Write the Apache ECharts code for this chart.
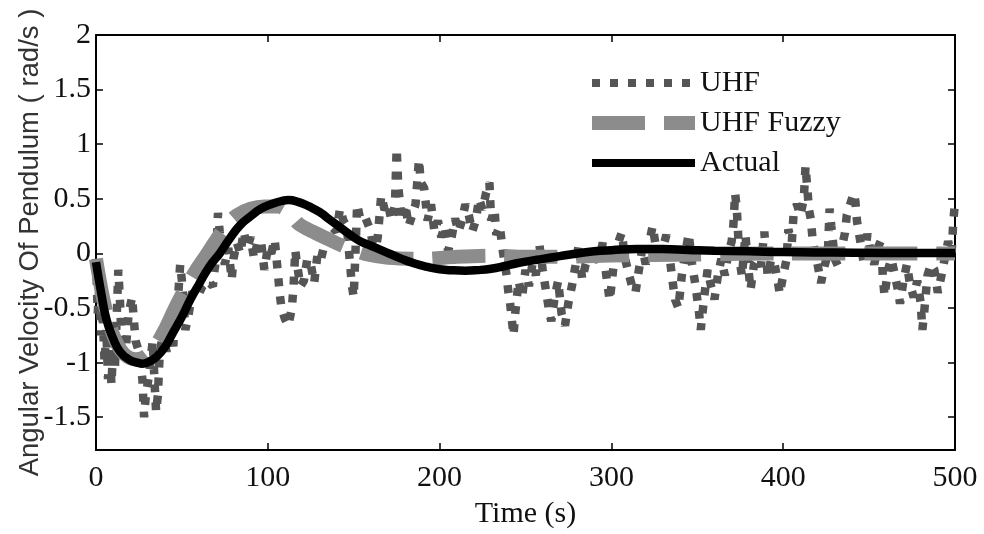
<!DOCTYPE html>
<html>
<head>
<meta charset="utf-8">
<title>Angular velocity of pendulum</title>
<script src="https://cdn.jsdelivr.net/npm/echarts@6/dist/echarts.min.js"></script>
<style>
  html, body { margin: 0; padding: 0; background: #fff; }
  #chart { width: 984px; height: 534px; }
</style>
</head>
<body>
<div id="chart"></div>
<script>
// tick values
const xTicks = [0, 100, 200, 300, 400, 500]
const yTicks = [-1.5, -1, -0.5, 0, 0.5, 1, 1.5, 2]

// Actual (black)
const actualT = [0, 3, 6, 10, 14, 19, 24, 27, 31, 35, 40, 45, 50, 55, 60, 66, 72, 78, 84, 90, 96, 102, 108, 112,
  118, 124, 130, 136, 142, 148, 154, 160, 166, 172, 178, 185, 192, 200, 208, 215, 222, 230, 238, 245, 252,
  260, 270, 280, 290, 300, 315, 330, 345, 360, 380, 400, 430, 460, 500]
const actualV = [-0.08, -0.36, -0.6, -0.78, -0.9, -0.97, -1.0, -1.01, -0.99, -0.95, -0.86, -0.72, -0.58, -0.42, -0.28, -0.12, 0.0, 0.14, 0.26, 0.34, 0.41, 0.45, 0.48, 0.49,
  0.47, 0.43, 0.38, 0.31, 0.24, 0.17, 0.11, 0.07, 0.03, -0.01, -0.05, -0.09, -0.12, -0.145, -0.155, -0.158, -0.153, -0.14, -0.115, -0.09, -0.07,
  -0.05, -0.025, 0.0, 0.02, 0.03, 0.04, 0.04, 0.032, 0.025, 0.02, 0.012, 0.008, 0.005, 0.005]

// UHF Fuzzy (light grey dashes)
const fuzzyT = [0, 4, 8, 12, 17, 23, 28, 34, 40, 46, 52, 58, 64, 69, 76, 82, 90, 98, 106, 112, 118, 126, 134, 142, 150, 158,
  170, 190, 210, 230, 250, 270, 300, 350, 400, 450, 500]
const fuzzyV = [-0.05, -0.4, -0.65, -0.82, -0.93, -0.97, -0.95, -0.86, -0.7, -0.5, -0.32, -0.16, -0.02, 0.1, 0.26, 0.35, 0.41, 0.43, 0.43, 0.38, 0.27, 0.2, 0.14, 0.08, 0.03, -0.01,
  -0.04, -0.05, -0.03, -0.02, -0.03, -0.03, -0.02, -0.01, 0.0, 0.0, 0.0]

// UHF (dark grey dots)
const uhfT = [0, 1, 2, 3, 4, 5, 6, 7, 8, 9, 10, 11, 12, 13, 14, 15,
  17, 19, 21, 22, 23, 25,
  27, 28, 29, 31, 33, 34, 35, 36, 37,
  39, 41, 43, 45,
  46, 47, 49, 50, 51, 52, 54, 56,
  59, 62, 65, 68, 69,
  70, 71, 72, 73,
  75, 77, 79, 80, 82, 84, 86, 88, 90, 92, 94, 96, 98, 100, 102, 104, 106,
  107, 108, 110, 112, 114, 115, 116, 117, 119, 121, 123,
  125, 127, 129, 131, 134, 137, 140, 142, 144, 146, 148, 149, 150, 151, 152, 154,
  157, 160, 162, 164, 166, 168, 170, 172,
  174, 175, 176, 178, 180, 182,
  184, 186, 188, 189, 191, 193, 195, 197, 199, 201, 203, 205, 207,
  209, 211, 213, 215, 217, 219, 221, 223, 225, 227, 229, 230, 232, 233, 235,
  237, 239, 240, 241, 242, 243, 244, 246, 248, 250,
  252, 254, 256, 258, 260, 262,
  264, 265, 267, 269, 271, 273, 275, 277, 279, 281, 283,
  285, 287, 289, 291, 293, 295, 297, 299, 300, 302, 304, 306,
  308, 310, 312, 314, 316, 318, 320, 322, 324, 326, 328, 330, 332, 334, 336,
  337, 339, 341, 343, 345, 347, 349, 351, 352, 354,
  356, 358, 360, 362, 364, 366, 368, 370, 371, 372, 373, 374, 375, 376,
  378, 380, 381, 383, 385, 387, 389, 391, 393, 395, 397, 398, 400, 402,
  403, 405, 406, 408, 410, 412, 413, 414, 415, 416, 417, 418,
  420, 422, 424, 426, 427, 428, 430, 432, 434,
  436, 437, 439, 441, 442, 443, 445, 447,
  449, 451, 453, 455, 457, 458, 459, 461, 463,
  465, 467, 468, 470, 472, 474, 476, 478, 480, 481, 482, 484, 486,
  488, 490, 492, 494, 496, 498, 499, 500]
const uhfV = [-0.05, -0.55, -0.3, -0.75, -0.6, -1.0, -0.7, -1.15, -0.9, -1.2, -0.85, -1.05, -0.6, -0.15, -0.45, -0.85,
  -0.95, -0.55, -0.4, -0.6, -0.8, -0.9,
  -1.15, -1.5, -1.3, -1.1, -0.8, -1.15, -1.45, -1.3, -0.95,
  -0.7, -0.9, -0.65, -0.85,
  -0.45, -0.6, -0.1, -0.25, -0.45, -0.7, -0.55, -0.35,
  -0.4, -0.3, -0.25, -0.3, -0.15,
  -0.05, 0.37, 0.2, 0.05,
  -0.1, 0.05, -0.24, -0.05, 0.1, 0.0, 0.2, 0.05, 0.15, -0.05, 0.1, 0.12, -0.15, 0.05, 0.0, 0.13, -0.2,
  -0.38, -0.5, -0.6, -0.66, -0.5, -0.3, 0.03, -0.1, -0.3, -0.25, -0.05,
  -0.1, -0.27, 0.0, -0.05, 0.15, 0.25, 0.2, 0.41, 0.3, 0.25, -0.12, -0.3, -0.4, 0.0, 0.45, 0.3,
  0.32, 0.2, -0.03, 0.15, 0.53, 0.4, 0.45, 0.3,
  0.44, 0.96, 0.6, 0.3, 0.45, 0.25,
  0.35, 0.45, 0.86, 0.65, 0.6, 0.3, 0.45, 0.2, 0.3, 0.15, 0.25, 0.02, 0.15,
  0.32, 0.2, 0.3, 0.45, 0.35, 0.2, 0.3, 0.5, 0.4, 0.55, 0.65, 0.3, 0.4, 0.17, 0.25,
  0.0, -0.2, -0.35, -0.45, -0.6, -0.75, -0.55, -0.25, -0.4, -0.15,
  -0.3, -0.1, -0.2, 0.09, -0.15, -0.35,
  -0.55, -0.62, -0.4, -0.25, -0.55, -0.66, -0.45, -0.3, -0.12, 0.08, -0.24,
  -0.1, 0.0, -0.12, 0.05, -0.05, 0.1, -0.2, -0.43, -0.3, 0.0, 0.1, 0.19,
  -0.05, -0.18, -0.3, -0.36, -0.15, 0.05, -0.1, 0.1, 0.25, 0.05, -0.1, 0.05, 0.17, -0.05, -0.3,
  -0.42, -0.5, -0.2, 0.0, 0.18, -0.1, -0.3, -0.54, -0.7, -0.4,
  -0.15, -0.3, -0.42, -0.2, -0.05, -0.2, 0.0, 0.11, 0.26, 0.55, 0.41, 0.1, -0.1, -0.21,
  0.17, -0.18, -0.33, -0.1, -0.05, -0.12, 0.2, -0.21, -0.05, -0.1, -0.27, -0.37, -0.2, -0.05,
  0.22, 0.1, 0.35, 0.45, 0.35, 0.5, 0.8, 0.6, 0.4, 0.32, 0.15, 0.05,
  -0.1, -0.27, -0.12, 0.0, 0.41, 0.25, -0.05, -0.12, 0.05,
  0.19, 0.35, 0.45, 0.55, 0.48, 0.29, 0.1, -0.1,
  0.18, 0.0, -0.1, 0.05, 0.12, -0.22, -0.39, -0.15, -0.05,
  -0.2, -0.35, -0.46, -0.25, -0.1, -0.3, -0.4, -0.25, -0.45, -0.7, -0.55, -0.2, -0.1,
  -0.15, -0.36, -0.21, -0.05, 0.11, 0.0, 0.29, 0.47]

const pairs = (ts, vs) => ts.map((t, i) => [t, vs[i]])

const serif = 'Liberation Serif'
const uhfColor = '#555555'
const fuzzyColor = '#8c8c8c'

const chart = echarts.init(document.getElementById('chart'), null, { renderer: 'canvas' })

// box axes: line + inward ticks, never glued to zero
const frameAxis = {
  axisLine: { show: true, onZero: false, lineStyle: { color: '#000', width: 2 } },
  axisTick: { show: true, inside: true, length: 7, lineStyle: { color: '#000', width: 1.5 } },
  splitLine: { show: false }
}
const yTick = { show: true, inside: true, length: 7, lineStyle: { color: '#000', width: 1.5 }, customValues: yTicks }
const noSymbol = { opacity: 0 }

const option = {
  animation: false,
  backgroundColor: '#fff',
  grid: { left: 96, right: 29, top: 35, bottom: 72, containLabel: false },
  legend: {
    orient: 'vertical',
    left: 580,
    top: 63,
    itemWidth: 103,
    itemHeight: 14,
    itemGap: 10,
    textStyle: { fontFamily: serif, fontSize: 30, lineHeight: 30, color: '#111' },
    data: [
      { name: 'UHF', itemStyle: noSymbol, lineStyle: { width: 8, type: [8, 10], color: uhfColor, cap: 'butt' } },
      { name: 'UHF Fuzzy', itemStyle: noSymbol, lineStyle: { width: 14, type: [53, 19], color: fuzzyColor, cap: 'butt' } },
      { name: 'Actual', itemStyle: noSymbol, lineStyle: { width: 8, color: '#000' } }
    ]
  },
  xAxis: [
    Object.assign({}, frameAxis, {
      type: 'value',
      position: 'bottom',
      min: 0,
      max: 500,
      interval: 100,
      name: 'Time (s)',
      nameLocation: 'middle',
      nameGap: 49,
      nameMoveOverlap: false,
      nameTextStyle: { fontFamily: serif, fontSize: 30, color: '#111' },
      axisLabel: { fontFamily: serif, fontSize: 30, color: '#111', margin: 13, customValues: xTicks }
    }),
    Object.assign({}, frameAxis, {
      type: 'value',
      position: 'top',
      min: 0,
      max: 500,
      interval: 100,
      axisLabel: { show: false }
    })
  ],
  yAxis: [
    Object.assign({}, frameAxis, {
      type: 'value',
      position: 'left',
      min: -1.8,
      max: 2,
      name: 'Angular Velocity Of Pendulum ( rad/s )',
      nameLocation: 'middle',
      nameRotate: 90,
      nameGap: 52,
      nameMoveOverlap: false,
      nameTextStyle: { fontFamily: 'Liberation Sans', fontSize: 27.5, color: '#333' },
      axisTick: yTick,
      axisLabel: { fontFamily: serif, fontSize: 30, color: '#111', margin: 5, customValues: yTicks }
    }),
    Object.assign({}, frameAxis, {
      type: 'value',
      position: 'right',
      min: -1.8,
      max: 2,
      axisTick: yTick,
      axisLabel: { show: false }
    })
  ],
  series: [
    {
      name: 'UHF',
      type: 'line',
      data: pairs(uhfT, uhfV),
      showSymbol: false,
      symbol: 'none',
      lineStyle: { color: uhfColor, width: 8.5, type: [8, 10], cap: 'butt', join: 'bevel' },
      itemStyle: { color: uhfColor },
      z: 2
    },
    {
      name: 'UHF Fuzzy',
      type: 'line',
      data: pairs(fuzzyT, fuzzyV),
      showSymbol: false,
      symbol: 'none',
      smooth: 0.3,
      lineStyle: { color: fuzzyColor, width: 14, type: [53, 19], cap: 'butt', join: 'bevel' },
      itemStyle: { color: fuzzyColor },
      z: 3
    },
    {
      name: 'Actual',
      type: 'line',
      data: pairs(actualT, actualV),
      showSymbol: false,
      symbol: 'none',
      smooth: true,
      lineStyle: { color: '#000', width: 8.5 },
      itemStyle: { color: '#000' },
      z: 4
    }
  ]
}

chart.setOption(option)
</script>
</body>
</html>
